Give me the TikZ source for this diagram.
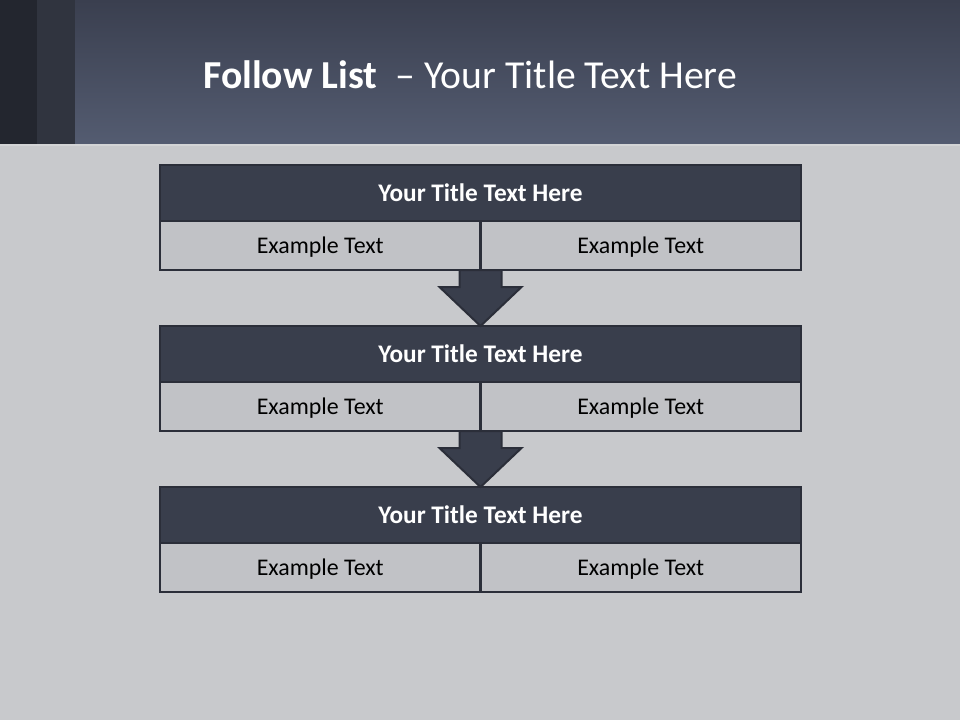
\documentclass[tikz,border=0pt]{standalone}
\usepackage{fontspec}
\setmainfont{Carlito}
\usetikzlibrary{calc,positioning}
\definecolor{hdtop}{HTML}{3A3F4F}
\definecolor{hdbot}{HTML}{545C71}
\definecolor{stripa}{HTML}{23262F}
\definecolor{stripb}{HTML}{30343F}
\definecolor{pagegray}{HTML}{C8C9CC}
\definecolor{boxdark}{HTML}{393E4C}
\definecolor{cellgray}{HTML}{C1C2C6}
\definecolor{edgegray}{HTML}{2B2E39}
\tikzset{
  titlebox/.style={draw=edgegray,line width=0.7mm,fill=boxdark,text=white,
    font=\fontsize{18}{21}\selectfont\bfseries,minimum width=160.25mm,
    minimum height=14mm,inner sep=0pt,outer sep=0pt},
  cellbox/.style={draw=edgegray,line width=0.7mm,fill=cellgray,text=black,
    font=\fontsize{17}{20}\selectfont,minimum width=80.125mm,
    minimum height=12.25mm,inner sep=0pt,outer sep=0pt,
    text height=11pt,text depth=0pt},
  flowarrow/.style={draw=edgegray,line width=0.5mm,fill=boxdark,line join=miter}
}
\begin{document}
\begin{tikzpicture}[x=0.25mm,y=-0.25mm]
\useasboundingbox (0,0) rectangle (960,720);
% page and header band
\fill[pagegray] (0,145) rectangle (960,720);
\fill[top color=hdtop,bottom color=hdbot] (0,0) rectangle (960,145);
\fill[stripa] (0,0) rectangle (37,145);
\fill[stripb] (37,0) rectangle (75,145);
\draw[pagegray!80!white,line width=0.3mm] (0,145) -- (960,145);
\node[anchor=base west,text=white,font=\fontsize{28.2}{32}\selectfont,inner sep=0pt] (heading) at (203,88)
  {\textbf{Follow List}\ \ --\hspace{0.02em} Your Title Text Here};
% three boxes
\node[titlebox] (t1) at (480.5,193) {Your Title Text Here};
\node[cellbox,anchor=north west] (c1l) at (t1.south west) {Example Text};
\node[cellbox,anchor=north west] (c1r) at (c1l.north east) {Example Text};
\node[titlebox,below=14mm of c1l.south east] (t2) {Your Title Text Here};
\node[cellbox,anchor=north west] (c2l) at (t2.south west) {Example Text};
\node[cellbox,anchor=north west] (c2r) at (c2l.north east) {Example Text};
\node[titlebox,below=14mm of c2l.south east] (t3) {Your Title Text Here};
\node[cellbox,anchor=north west] (c3l) at (t3.south west) {Example Text};
\node[cellbox,anchor=north west] (c3r) at (c3l.north east) {Example Text};
% arrows between boxes
\foreach \a/\b in {c1l/t2,c2l/t3} {
  \draw[flowarrow] ($(\a.south east)+(-21,0)$) -- ($(\a.south east)+(21,0)$)
    -- ($(\a.south east)+(21,17)$) -- ($(\a.south east)+(41,17)$) -- (\b.north)
    -- ($(\a.south east)+(-41,17)$) -- ($(\a.south east)+(-21,17)$) -- cycle;
}
\end{tikzpicture}
\end{document}
